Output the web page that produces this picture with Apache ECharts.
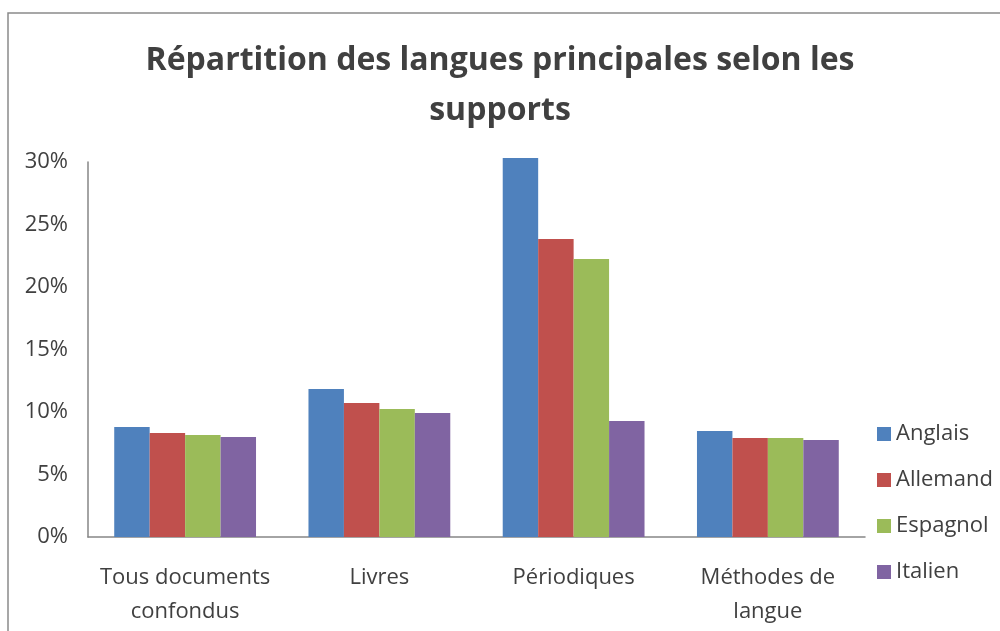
<!DOCTYPE html>
<html>
<head>
<meta charset="utf-8">
<script src="https://cdn.jsdelivr.net/npm/echarts@6/dist/echarts.min.js"></script>
<style>
html,body{margin:0;padding:0;background:#fff;}
#chart{width:1000px;height:631px;}
</style>
</head>
<body>
<div id="chart"></div>
<script>
const categories = ['Tous documents\nconfondus', 'Livres', 'Périodiques', 'Méthodes de\nlangue'];
const anglais = [8.8, 11.84, 30.32, 8.48];
const allemand = [8.32, 10.72, 23.84, 7.92];
const espagnol = [8.16, 10.24, 22.24, 7.92];
const italien = [8.0, 9.92, 9.28, 7.76];
const seriesNames = ['Anglais', 'Allemand', 'Espagnol', 'Italien'];
const yTicks = [0, 5, 10, 15, 20, 25, 30];

const colors = ['#4F81BD', '#C0504D', '#9BBB59', '#8064A2'];
const values = [anglais, allemand, espagnol, italien];
const font = "'Open Sans', 'Noto Sans', sans-serif";

const chart = echarts.init(document.getElementById('chart'), null, {renderer: 'canvas'});
chart.setOption({
  animation: false,
  backgroundColor: '#ffffff',
  color: colors,
  title: {
    text: 'Répartition des langues principales selon les\nsupports',
    left: 'center',
    top: 31,
    textStyle: {
      fontFamily: font,
      fontWeight: 'bold',
      fontSize: 32,
      lineHeight: 50,
      color: '#404040'
    }
  },
  graphic: [{
    type: 'rect',
    shape: {x: 8, y: 13, width: 1100, height: 700},
    style: {fill: 'none', stroke: '#8a8a8a', lineWidth: 1.5},
    silent: true
  }],
  legend: {
    orient: 'vertical',
    left: 877,
    top: 423,
    padding: 0,
    itemWidth: 14,
    itemHeight: 14,
    itemGap: 24,
    icon: 'rect',
    data: seriesNames,
    textStyle: {fontFamily: font, fontSize: 22, lineHeight: 22, color: '#404040'}
  },
  grid: {left: 88, right: 135, top: 162, bottom: 94, containLabel: false},
  xAxis: {
    type: 'category',
    data: categories,
    axisLine: {lineStyle: {color: '#868686', width: 1.5}},
    axisTick: {show: false},
    axisLabel: {
      fontFamily: font, fontSize: 22, lineHeight: 34, color: '#404040', margin: 24, interval: 0
    }
  },
  yAxis: {
    type: 'value',
    min: yTicks[0],
    max: yTicks[yTicks.length - 1],
    interval: yTicks[1] - yTicks[0],
    axisLine: {show: true, lineStyle: {color: '#868686', width: 1.5}},
    axisTick: {show: false},
    splitLine: {show: false},
    axisLabel: {
      fontFamily: font, fontSize: 22, color: '#404040', margin: 20,
      formatter: '{value}%'
    }
  },
  series: seriesNames.map((name, i) => ({
    name: name,
    type: 'bar',
    data: values[i],
    barGap: '0%',
    barCategoryGap: '27%',
    clip: false,
    itemStyle: {color: colors[i]}
  }))
});
</script>
</body>
</html>
